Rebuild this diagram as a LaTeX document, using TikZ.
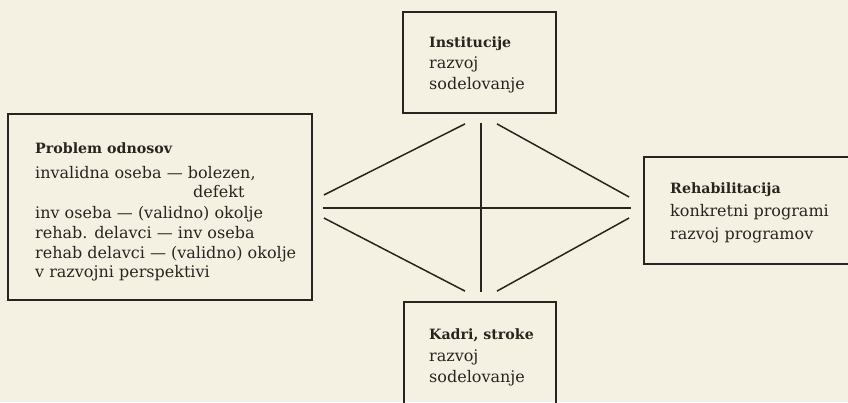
\documentclass[tikz,border=0pt]{standalone}
\usepackage{fontspec}
\setmainfont{DejaVu Serif}
\usetikzlibrary{calc}
\definecolor{paper}{RGB}{244,241,226}
\definecolor{ink}{RGB}{40,37,33}
\begin{document}
\begin{tikzpicture}[x=1pt,y=-1pt,
  box/.style={draw=ink, line width=1.8pt, rectangle, inner sep=0pt},
  txt/.style={anchor=base west, inner sep=0pt, text=ink, font=\fontsize{16}{21}\selectfont},
  hd/.style={txt, font=\fontsize{14.2}{21}\selectfont\bfseries},
  link/.style={draw=ink, line width=1.5pt}]
\fill[paper] (0,0) rectangle (848,402);
\useasboundingbox (0,0) rectangle (848,402);
% boxes
\node[box, minimum width=153pt, minimum height=101pt] (inst) at (479.5,62.5) {};
\node[box, minimum width=304pt, minimum height=186pt] (prob) at (160,207) {};
\node[box, minimum width=226pt, minimum height=107pt] (reh) at (757,210.5) {};
\node[box, minimum width=152pt, minimum height=118pt] (kad) at (480,361) {};
% texts
\node[hd] (inst1) at (429,47) {Institucije};
\node[txt] (inst2) at (429,68) {razvoj};
\node[txt] (inst3) at (429,89) {sodelovanje};
\node[hd] (prob1) at (35,153) {Problem odnosov};
\node[txt] (prob2) at (35,178) {invalidna oseba — bolezen,};
\node[txt] (prob3) at (193,197) {defekt};
\node[txt] (prob4) at (35,218) {inv oseba — (validno) okolje};
\node[txt] (prob5) at (35,238) {rehab. delavci — inv oseba};
\node[txt] (prob6) at (35,258) {rehab delavci — (validno) okolje};
\node[txt] (prob7) at (35,277) {v razvojni perspektivi};
\node[hd] (reh1) at (670,193) {Rehabilitacija};
\node[txt] (reh2) at (670,216) {konkretni programi};
\node[txt] (reh3) at (670,239) {razvoj programov};
\node[hd] (kad1) at (429,339) {Kadri, stroke};
\node[txt] (kad2) at (429,361) {razvoj};
\node[txt] (kad3) at (429,382) {sodelovanje};
% connectors
\draw[link] ($(inst.south)+(1.5,9)$) -- ($(kad.north)+(1,-9)$);
\draw[link] ($(prob.east)+(10,1)$) -- ($(reh.west)+(-12,-2.5)$);
\draw[link] ($(inst.south)+(-14.5,10)$) -- ($(prob.east)+(11,-12)$);
\draw[link] ($(inst.south)+(17.5,10)$) -- ($(reh.west)+(-14,-13.5)$);
\draw[link] ($(prob.east)+(11,11)$) -- ($(kad.north)+(-15,-10)$);
\draw[link] ($(reh.west)+(-14,7.5)$) -- ($(kad.north)+(17,-10)$);
\end{tikzpicture}
\end{document}
